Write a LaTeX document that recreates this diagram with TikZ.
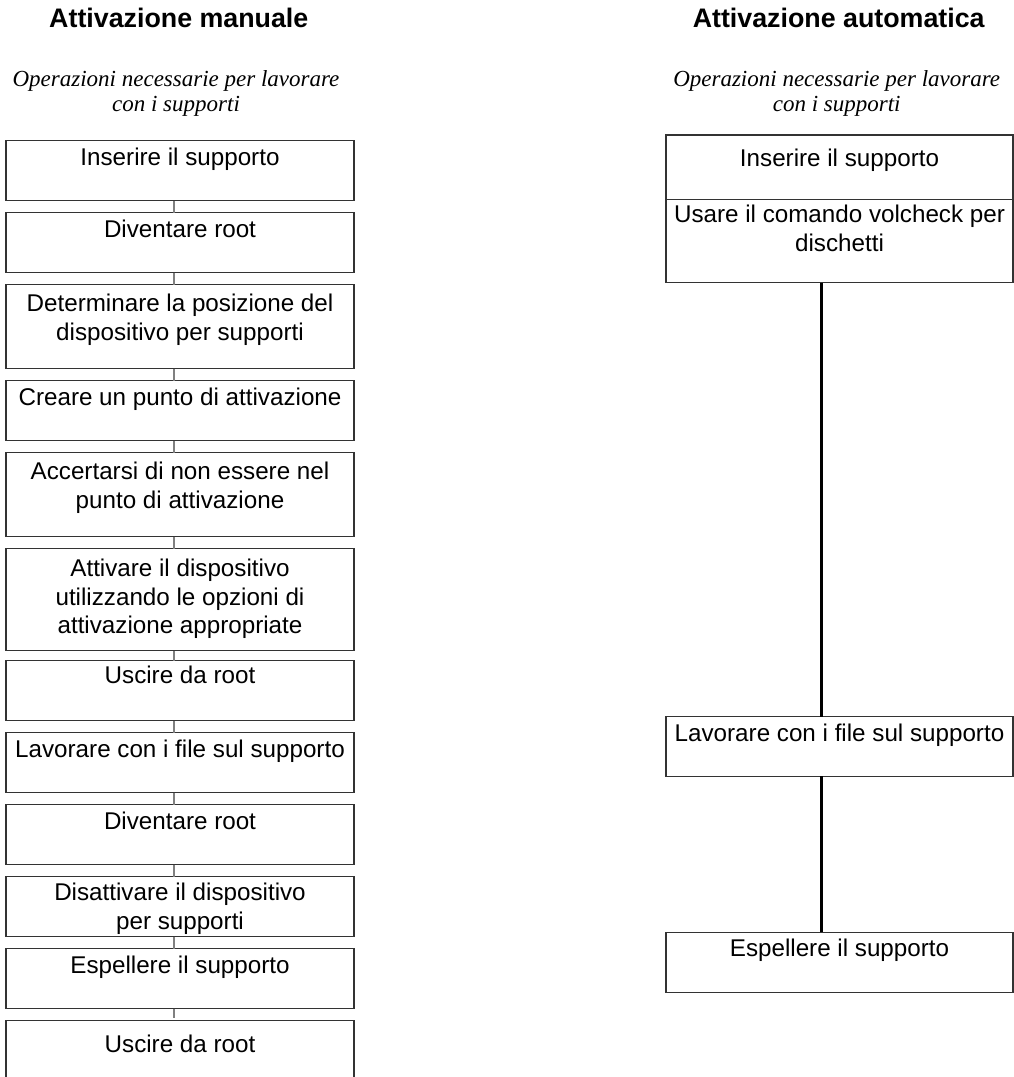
\documentclass[tikz,border=0pt]{standalone}
\usepackage{fontspec}
\setmainfont{Liberation Sans}
\newfontfamily\notefont{Liberation Serif}
\usetikzlibrary{positioning}
\tikzset{
  stepbox/.style={rectangle, draw=black!80, line width=1.2pt, minimum width=348pt, inner sep=0pt, outer sep=0pt, align=center, font=\fontsize{24.2}{28.3}\selectfont, text height=25pt, text depth=35pt},
  box84/.style={stepbox, text height=55.3pt, text depth=28.7pt},
  box102/.style={stepbox, text height=84.6pt, text depth=17.4pt},
  autobox/.style={stepbox, minimum width=347pt},
  heading/.style={anchor=base, font=\fontsize{26.8}{32}\selectfont\bfseries},
  note/.style={anchor=base, align=center, font=\notefont\itshape\fontsize{23}{25}\selectfont},
  link/.style={draw=gray, line width=1.4pt},
  biglink/.style={draw=black, line width=2.6pt},
}
\begin{document}
\begin{tikzpicture}[x=1pt, y=1pt, node distance=12pt]
  \clip (0,0) rectangle (1014,-1077);

  % ---- Headings ----
  \node (mantitle) [heading] at (178.8,-27) {Attivazione manuale};
  \node (autotitle) [heading] at (838.7,-27) {Attivazione automatica};
  \node (mannote) [note] at (176,-111) {Operazioni necessarie per lavorare\\con i supporti};
  \node (autonote) [note] at (836.7,-111) {Operazioni necessarie per lavorare\\con i supporti};

  % ---- Manual column ----
  \node (insert) [stepbox, anchor=north] at (180,-140.7) {Inserire il supporto};
  \node (root) [stepbox, below=of insert] {Diventare root};
  \node (locate) [box84, below=of root] {Determinare la posizione del\\dispositivo per supporti};
  \node (mkpoint) [stepbox, below=of locate] {Creare un punto di attivazione};
  \node (leave) [box84, below=of mkpoint] {Accertarsi di non essere nel\\punto di attivazione};
  \node (mount) [box102, below=of leave] {Attivare il dispositivo\\utilizzando le opzioni di\\attivazione appropriate};
  \node (exit) [stepbox, text height=23pt, text depth=37pt, below=10pt of mount] {Uscire da root};
  \node (work) [stepbox, below=of exit] {Lavorare con i file sul supporto};
  \node (rootb) [stepbox, below=of work] {Diventare root};
  \node (umount) [stepbox, text height=52.3pt, text depth=7.7pt, below=of rootb] {Disattivare il dispositivo\\per supporti};
  \node (eject) [stepbox, below=of umount] {Espellere il supporto};
  \node (exitb) [stepbox, text height=32pt, text depth=28pt, below=of eject] {Uscire da root};

  % ---- Automatic column ----
  \node (ainsert) [autobox, text height=31pt, text depth=33.3pt, anchor=north] at (839.5,-135) {Inserire il supporto};
  \node (volcheck) [autobox, text height=51.8pt, text depth=31.6pt, below=0pt of ainsert] {Usare il comando volcheck per\\dischetti};
  \node (awork) [autobox, text height=24.5pt, text depth=35pt, below=434pt of volcheck] {Lavorare con i file sul supporto};
  \node (aeject) [autobox, text height=24.5pt, text depth=35.5pt, below=156pt of awork] {Espellere il supporto};

  % ---- Connectors ----
  \draw [link] ([xshift=-6pt]insert.south) -- ([xshift=-6pt]root.north);
  \draw [link] ([xshift=-6pt]root.south) -- ([xshift=-6pt]locate.north);
  \draw [link] ([xshift=-6pt]locate.south) -- ([xshift=-6pt]mkpoint.north);
  \draw [link] ([xshift=-6pt]mkpoint.south) -- ([xshift=-6pt]leave.north);
  \draw [link] ([xshift=-6pt]leave.south) -- ([xshift=-6pt]mount.north);
  \draw [link] ([xshift=-6pt]mount.south) -- ([xshift=-6pt]exit.north);
  \draw [link] ([xshift=-6pt]exit.south) -- ([xshift=-6pt]work.north);
  \draw [link] ([xshift=-6pt]work.south) -- ([xshift=-6pt]rootb.north);
  \draw [link] ([xshift=-6pt]rootb.south) -- ([xshift=-6pt]umount.north);
  \draw [link] ([xshift=-6pt]umount.south) -- ([xshift=-6pt]eject.north);
  \draw [link, shorten >=3pt] ([xshift=-6pt]eject.south) -- ([xshift=-6pt]exitb.north);
  \draw [biglink] ([xshift=-18pt]volcheck.south) -- ([xshift=-18pt]awork.north);
  \draw [biglink] ([xshift=-18pt]awork.south) -- ([xshift=-18pt]aeject.north);

\end{tikzpicture}
\end{document}
